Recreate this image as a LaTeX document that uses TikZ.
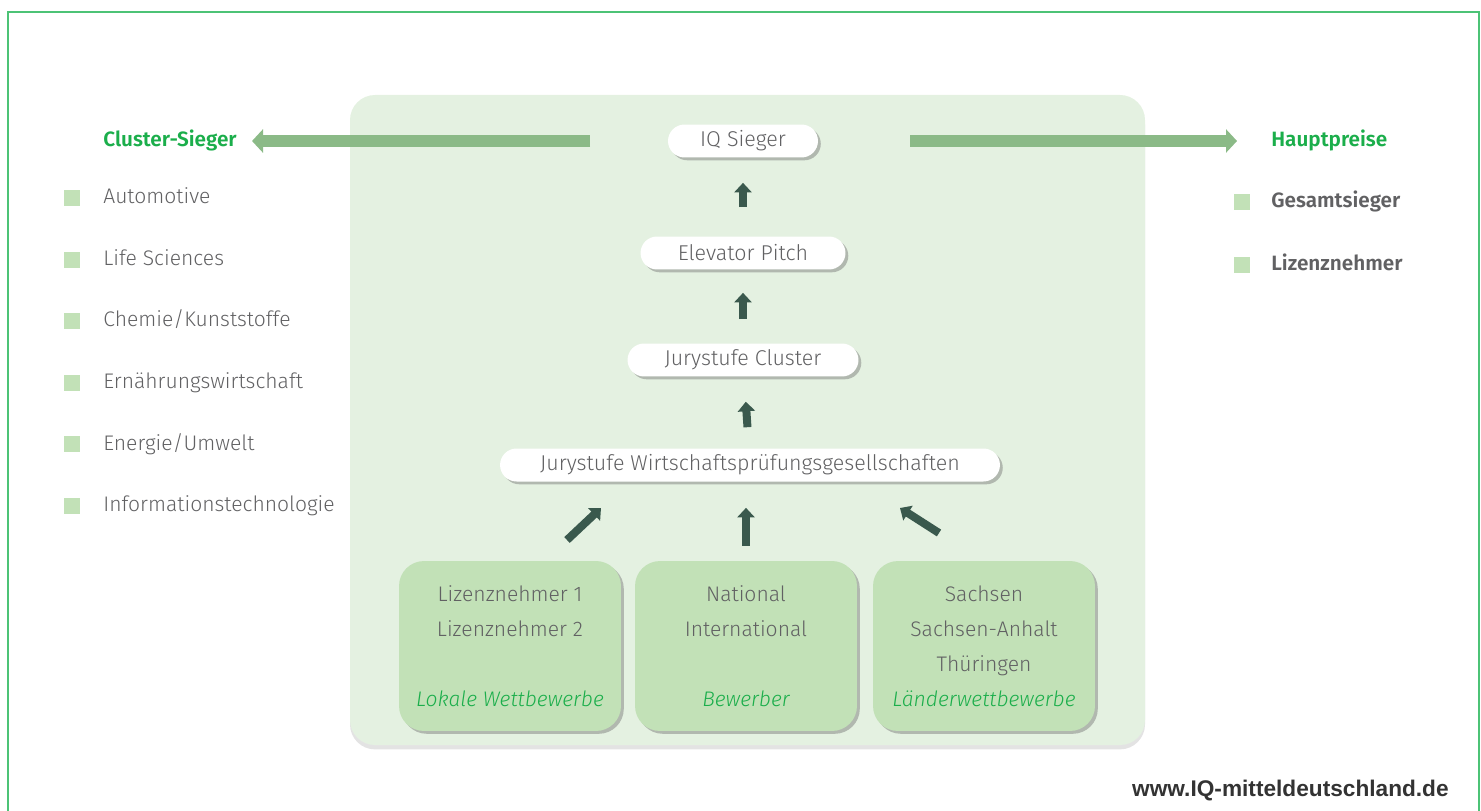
\documentclass[tikz,border=0pt]{standalone}
\usepackage{fontspec}
\setmainfont{Fira Sans}[UprightFont={* Light},ItalicFont={* Light Italic},BoldFont={* SemiBold}]
\newfontfamily\webfont{Liberation Sans}
\usepackage{tikz}
\usetikzlibrary{arrows.meta,shadows,positioning}

\definecolor{rahmen}{HTML}{4CC376}
\definecolor{panel}{HTML}{E4F1E1}
\definecolor{feldgruen}{HTML}{C2E1B7}
\definecolor{titelgruen}{HTML}{1BAE4B}
\definecolor{textgrau}{HTML}{616163}
\definecolor{pfeilgruen}{HTML}{8BBA87}
\definecolor{dunkel}{HTML}{3A594D}

\newcommand\wettb[1]{{\itshape\color{titelgruen}#1}}

\tikzset{
    schatten/.style={drop shadow={shadow xshift=1.6pt, shadow yshift=-1.6pt, opacity=.45, fill=black!55}},
    pill/.style={fill=white, rounded corners=0.33cm, minimum height=0.66cm, inner sep=0pt,
        text=textgrau, font=\fontsize{12.2}{14}\selectfont, schatten},
    feld/.style={fill=feldgruen, rounded corners=0.5cm, minimum width=4.44cm, minimum height=3.4cm,
        align=center, text=textgrau, font=\fontsize{12}{19.9}\selectfont, schatten},
    titel/.style={anchor=west, inner sep=0pt, text=titelgruen, font=\fontsize{11.8}{14}\selectfont\bfseries,
        text height=1.5ex, text depth=.25ex},
    eintrag/.style={anchor=west, inner sep=0pt, text=textgrau, font=\fontsize{12}{14}\selectfont,
        text height=1.5ex, text depth=.25ex},
    quadrat/.style={fill=feldgruen, minimum size=0.32cm, inner sep=0pt},
    gpfeil/.style={draw=pfeilgruen, line width=0.25cm, -{Triangle[width=0.46cm,length=0.22cm]}},
    dpfeil/.style={draw=dunkel, line width=0.16cm, -{Triangle[width=0.34cm,length=0.19cm]}},
}

\begin{document}
\begin{tikzpicture}[x=0.02cm,y=-0.02cm]
                \useasboundingbox (0,0) rectangle (1481,811);
                \draw[rahmen, line width=0.04cm] (8,811) -- (8,12) -- (1479,12) -- (1479,811);

                \fill[panel, rounded corners=0.5cm, drop shadow={shadow xshift=0pt, shadow yshift=-2.5pt, opacity=.18, fill=black!60}] (350,95) rectangle (1145,745);

                \node[pill, minimum width=3cm] (iq) at (743,141) {IQ Sieger};
                \node[pill, minimum width=4.1cm] (ep) at (743,253) {Elevator Pitch};
                \node[pill, minimum width=4.62cm] (cl) at (743,360) {Jurystufe Cluster};
                \node[pill, minimum width=10cm] (jury) at (750,465) {Jurystufe Wirtschaftsprüfungsgesellschaften};

                \node[feld] (lw) at (510,646) {Lizenznehmer 1\\Lizenznehmer 2\\[19.9pt]\wettb{Lokale Wettbewerbe}};
                \node[feld] (bw) at (746,646) {National\\International\\[19.9pt]\wettb{Bewerber}};
                \node[feld] (ld) at (984,646) {Sachsen\\Sachsen-Anhalt\\Thüringen\\\wettb{Länderwettbewerbe}};

                \draw[dpfeil, shorten <=0.58cm, shorten >=0.5cm] (ep) -- (iq);
                \draw[dpfeil, shorten <=0.48cm, shorten >=0.46cm] (cl) -- (ep);
                \draw[dpfeil, shorten <=0.42cm, shorten >=0.5cm] (jury) -- (cl);
                \draw[dpfeil, shorten <=0.3cm, shorten >=0.52cm] (bw.north) -- (bw.north |- jury.south);
                \coordinate (la) at (567,540);
                \coordinate (lb) at (601,508);
                \coordinate (ra) at (939,533);
                \coordinate (rb) at (900,508);
                \draw[dpfeil] (la) -- (lb);
                \draw[dpfeil] (ra) -- (rb);

                \node[titel] (cs) at (103,141) {Cluster-Sieger};
                \foreach \name [count=\i from 0] in {Automotive, Life Sciences, {Chemie/Kunststoffe}, Ernährungswirtschaft, {Energie/Umwelt}, Informationstechnologie}{
                    \node[quadrat] (q\i) at (72,{198+61.6*\i}) {};
                    \node[eintrag] (e\i) at (103,{198+61.6*\i}) {\name};
                }

                \node[titel] (hp) at (1271,141) {Hauptpreise};
                \node[quadrat] (hq1) at (1242,202) {};
                \node[eintrag, font=\fontsize{11.8}{14}\selectfont\bfseries] (h1) at (1271,202) {Gesamtsieger};
                \node[quadrat] (hq2) at (1242,265) {};
                \node[eintrag, font=\fontsize{11.8}{14}\selectfont\bfseries] (h2) at (1271,265) {Lizenznehmer};

                \coordinate (lstart) at (590,141);
                \coordinate (rstart) at (910,141);
                \draw[gpfeil, shorten >=0.3cm] (lstart) -- (cs.east);
                \draw[gpfeil, shorten >=0.68cm] (rstart) -- (hp.west);

                \node[anchor=east, inner sep=0pt, text=black!80, font=\webfont\bfseries\fontsize{12.9}{14}\selectfont] (web) at (1449,791) {www.IQ-mitteldeutschland.de};
            \end{tikzpicture}
\end{document}
